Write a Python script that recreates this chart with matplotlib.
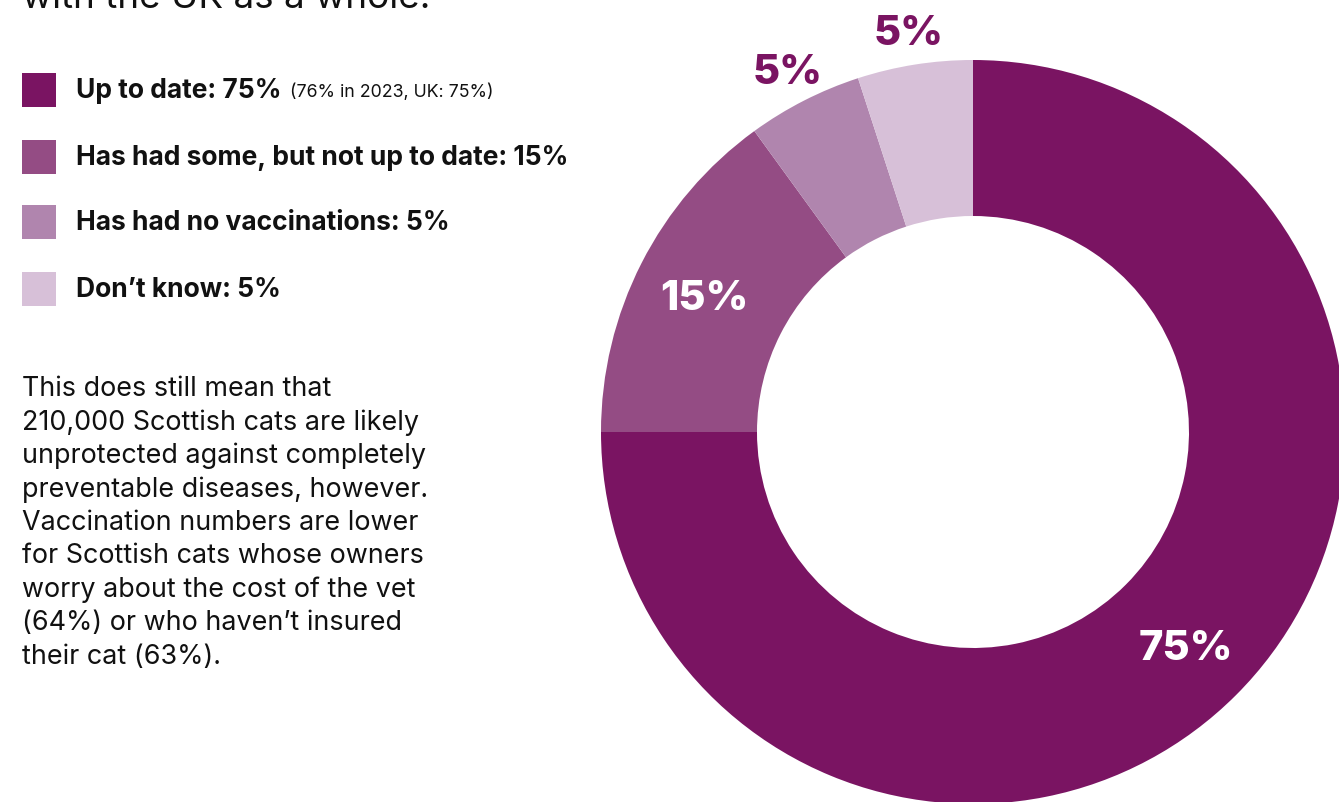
import matplotlib.pyplot as plt
from matplotlib.patches import Rectangle
from matplotlib.transforms import offset_copy
import numpy as np

plt.rcParams['font.family'] = ['Inter', 'DejaVu Sans']

# Données
categories = ["Up to date", "Has had some, but not up to date",
              "Has had no vaccinations", "Don\u2019t know"]
valeurs = [75, 15, 5, 5]
couleurs = ["#7a1462", "#944c84", "#b085ae", "#d7c0d8"]
note_75 = "(76% in 2023, UK: 75%)"

paragraphe = [
    "This does still mean that",
    "210,000 Scottish cats are likely",
    "unprotected against completely",
    "preventable diseases, however.",
    "Vaccination numbers are lower",
    "for Scottish cats whose owners",
    "worry about the cost of the vet",
    "(64%) or who haven\u2019t insured",
    "their cat (63%).",
]

W, H = 1339, 803
fig = plt.figure(figsize=(W / 100, H / 100), dpi=100)


def fx(px):
    return px / W


def fy(py):
    return 1 - py / H


# Titre (coupé en haut)
fig.text(fx(22), fy(8), "with the UK as a whole.", fontsize=26.5,
         color="#111111", va="baseline", ha="left")

# Légende
y_leg = [91, 158, 223, 290]
for cat, val, c, y in zip(categories, valeurs, couleurs, y_leg):
    fig.add_artist(Rectangle((fx(22), fy(y + 17)), fx(34), 34 / H,
                             facecolor=c, edgecolor="none",
                             transform=fig.transFigure))
    t = fig.text(fx(76), fy(y), f"{cat}: {val}%", fontsize=19,
                 fontweight="bold", color="#111111", va="center", ha="left")
    if cat == "Up to date":
        fig.canvas.draw()
        bb = t.get_window_extent()
        fig.text(fx(bb.x1 + 8), fy(y + 1), note_75, fontsize=12.8,
                 color="#111111", va="center", ha="left")

# Paragraphe
for i, ligne in enumerate(paragraphe):
    fig.text(fx(22), fy(389 + i * 33.5), ligne, fontsize=19.4,
             color="#111111", va="center", ha="left")

# Anneau
R, r_in = 372, 216
cx, cy = 973, 433
ax = fig.add_axes([fx(cx - R), fy(cy + R), 2 * R / W, 2 * R / H])
wedges, _ = ax.pie(valeurs, colors=couleurs, startangle=90, counterclock=False,
                   radius=1, wedgeprops=dict(width=(R - r_in) / R, linewidth=0))
ax.set_xlim(-1, 1)
ax.set_ylim(-1, 1)
ax.set_aspect("equal")
ax.axis("off")

# Étiquettes de pourcentage
for w, val in zip(wedges, valeurs):
    ang = np.deg2rad((w.theta1 + w.theta2) / 2)
    if val >= 10:
        rr, col, dy = 0.81, "white", -3
    else:
        rr, col, dy = 1.1, "#7a1462", -5
    trans = offset_copy(ax.transData, fig=fig, y=dy, units="dots")
    ax.text(rr * np.cos(ang), rr * np.sin(ang), f"{val}%", fontsize=30,
            fontweight="heavy", color=col, ha="center", va="center",
            transform=trans, clip_on=False)

fig.savefig("out.png", dpi=100)
